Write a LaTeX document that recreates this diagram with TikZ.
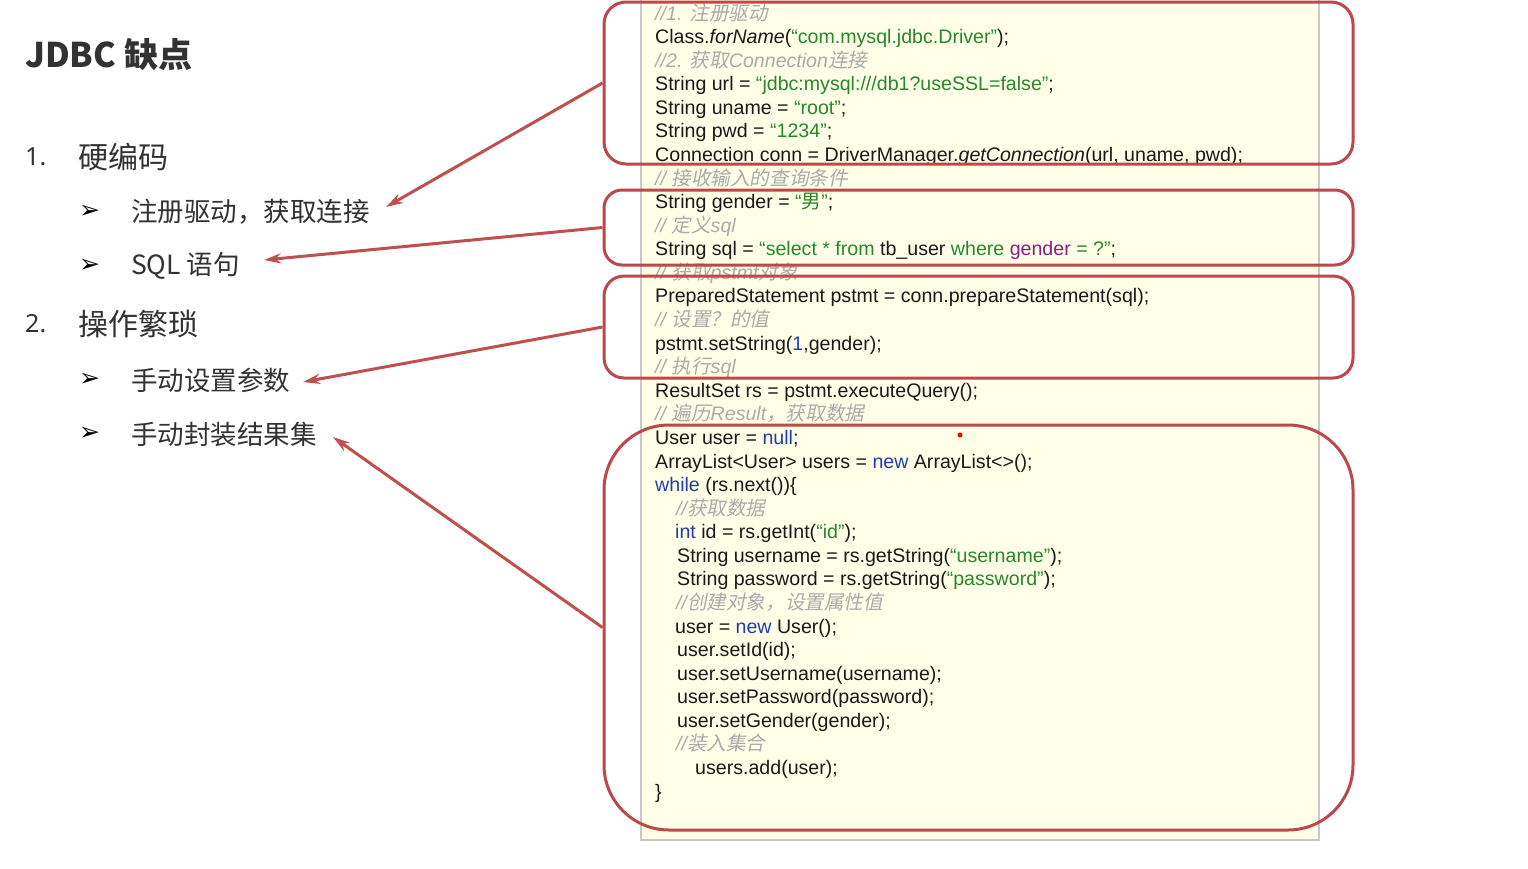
\documentclass[tikz,border=0pt]{standalone}
\usepackage{fontspec}
\setmainfont{Liberation Sans}
\newfontfamily\cjk{Noto Sans CJK SC}
\newfontfamily\cjkit[FakeSlant=0.2]{Noto Sans CJK SC}
\newfontfamily\latsans{Noto Sans}
\newfontfamily\dejavu{DejaVu Sans}
\usetikzlibrary{arrows.meta}
\definecolor{boxred}{RGB}{188,72,76}
\definecolor{arrred}{RGB}{192,80,77}
\definecolor{panelfill}{RGB}{255,255,232}
\definecolor{panelline}{RGB}{200,200,200}
\definecolor{codeblack}{RGB}{25,25,25}
\definecolor{strgreen}{RGB}{40,135,45}
\definecolor{kwblue}{RGB}{35,60,165}
\definecolor{kwpurple}{RGB}{135,30,135}
\definecolor{cmtgray}{RGB}{170,170,170}
\definecolor{lefttext}{RGB}{50,50,50}
\newcommand\jstr[1]{\textcolor{strgreen}{#1}}
\newcommand\jkw[1]{\textcolor{kwblue}{#1}}
\newcommand\jcm[1]{\textcolor{cmtgray}{\itshape #1}}
\newcommand\jcn[1]{{\cjkit #1}}
\tikzset{
  codeline/.style={anchor=base west, inner sep=0pt, text=codeblack,
    font=\fontsize{19.6}{23.6}\selectfont},
  redbox/.style={draw=boxred, line width=3pt, fill=none, inner sep=0pt},
  pointer/.style={draw=arrred, line width=3pt,
    -{Stealth[length=17pt,width=10pt]}},
  lefthead/.style={anchor=west, inner sep=0pt, text=lefttext,
    font=\cjk\fontsize{30}{36}\selectfont},
  leftitem/.style={anchor=west, inner sep=0pt, text=lefttext,
    font=\cjk\fontsize{26.5}{32}\selectfont},
  leftnum/.style={anchor=west, inner sep=0pt, text=lefttext,
    font=\latsans\fontsize{25}{30}\selectfont},
  bullet/.style={anchor=west, inner sep=0pt, text=black,
    font=\dejavu\fontsize{25}{28}\selectfont},
}
\begin{document}
\begin{tikzpicture}[x=1pt,y=-1pt]
\useasboundingbox (0,0) rectangle (1528,868);
\fill[white] (0,0) rectangle (1528,868);
% code panel
\draw[fill=panelfill, draw=panelline, line width=1.5pt] (641,-3) rectangle (1319,840);
% code lines
\def\bl#1{\fpeval{20+23.58*(#1-1)}}
\node[codeline] (c1) at (655,{\bl{1}}) {\jcm{//1. \jcn{注册驱动}}};
\node[codeline] (c2) at (655,{\bl{2}}) {Class.\textit{forName}(\jstr{“com.mysql.jdbc.Driver”});};
\node[codeline] (c3) at (655,{\bl{3}}) {\jcm{//2. \jcn{获取}Connection\jcn{连接}}};
\node[codeline] (c4) at (655,{\bl{4}}) {String url = \jstr{“jdbc:mysql:///db1?useSSL=false”};};
\node[codeline] (c5) at (655,{\bl{5}}) {String uname = \jstr{“root”};};
\node[codeline] (c6) at (655,{\bl{6}}) {String pwd = \jstr{“1234”};};
\node[codeline] (c7) at (655,{\bl{7}}) {Connection conn = DriverManager.\textit{getConnection}(url, uname, pwd);};
\node[codeline] (c8) at (655,{\bl{8}}) {\jcm{// \jcn{接收输入的查询条件}}};
\node[codeline] (c9) at (655,{\bl{9}}) {String gender = \jstr{“{\cjk 男}”};};
\node[codeline] (c10) at (655,{\bl{10}}) {\jcm{// \jcn{定义}sql}};
\node[codeline] (c11) at (655,{\bl{11}}) {String sql = \jstr{“select * from} tb\_user \jstr{where} \textcolor{kwpurple}{gender} \jstr{= ?”};};
\node[codeline] (c12) at (655,{\bl{12}}) {\jcm{// \jcn{获取}pstmt\jcn{对象}}};
\node[codeline] (c13) at (655,{\bl{13}}) {PreparedStatement pstmt = conn.prepareStatement(sql);};
\node[codeline] (c14) at (655,{\bl{14}}) {\jcm{// \jcn{设置？的值}}};
\node[codeline] (c15) at (655,{\bl{15}}) {pstmt.setString(\jkw{1},gender);};
\node[codeline] (c16) at (655,{\bl{16}}) {\jcm{// \jcn{执行}sql}};
\node[codeline] (c17) at (655,{\bl{17}}) {ResultSet rs = pstmt.executeQuery();};
\node[codeline] (c18) at (655,{\bl{18}}) {\jcm{// \jcn{遍历}Result\jcn{，获取数据}}};
\node[codeline] (c19) at (655,{\bl{19}}) {User user = \jkw{null};};
\node[codeline] (c20) at (655,{\bl{20}}) {ArrayList<User> users = \jkw{new} ArrayList<>();};
\node[codeline] (c21) at (655,{\bl{21}}) {\jkw{while} (rs.next())\{};
\node[codeline] (c22) at (676,{\bl{22}}) {\jcm{//\jcn{获取数据}}};
\node[codeline] (c23) at (675,{\bl{23}}) {\jkw{int} id = rs.getInt(\jstr{“id”});};
\node[codeline] (c24) at (677,{\bl{24}}) {String username = rs.getString(\jstr{“username”});};
\node[codeline] (c25) at (677,{\bl{25}}) {String password = rs.getString(\jstr{“password”});};
\node[codeline] (c26) at (676,{\bl{26}}) {\jcm{//\jcn{创建对象，设置属性值}}};
\node[codeline] (c27) at (675,{\bl{27}}) {user = \jkw{new} User();};
\node[codeline] (c28) at (677,{\bl{28}}) {user.setId(id);};
\node[codeline] (c29) at (677,{\bl{29}}) {user.setUsername(username);};
\node[codeline] (c30) at (677,{\bl{30}}) {user.setPassword(password);};
\node[codeline] (c31) at (677,{\bl{31}}) {user.setGender(gender);};
\node[codeline] (c32) at (676,{\bl{32}}) {\jcm{//\jcn{装入集合}}};
\node[codeline] (c33) at (695,{\bl{33}}) {users.add(user);};
\node[codeline] (c34) at (655,{\bl{34}}) {\}};
% red boxes
\node[redbox, rounded corners=22pt, minimum width=749pt, minimum height=162pt] (b1) at (978.5,83) {};
\node[redbox, rounded corners=18pt, minimum width=749pt, minimum height=75pt] (b2) at (978.5,227.5) {};
\node[redbox, rounded corners=20pt, minimum width=749pt, minimum height=102pt] (b3) at (978.5,327) {};
\node[redbox, rounded corners=65pt, minimum width=749pt, minimum height=405pt] (b4) at (978.5,627.5) {};
% pointer dot
\node[circle, fill=red, inner sep=0pt, minimum size=5pt] (dot) at (960,435) {};
% left column
\node[anchor=west, inner sep=0pt, text=lefttext, font=\cjk\bfseries\fontsize{34}{40}\selectfont] (title) at (25,55) {JDBC 缺点};
\node[leftnum] (n1) at (25,157) {1.};
\node[lefthead] (h1) at (78,157) {硬编码};
\node[bullet] (p1) at (79,212) {➢};
\node[leftitem] (i1) at (131,212) {注册驱动，获取连接};
\node[bullet] (p2) at (79,266) {➢};
\node[leftitem] (i2) at (131,266) {SQL 语句};
\node[leftnum] (n2) at (25,324) {2.};
\node[lefthead] (h2) at (78,324) {操作繁琐};
\node[bullet] (p3) at (79,380) {➢};
\node[leftitem] (i3) at (131,380) {手动设置参数};
\node[bullet] (p4) at (79,434) {➢};
\node[leftitem] (i4) at (131,434) {手动封装结果集};
% arrow tips
\coordinate (t1) at (386,207);
\coordinate (t2) at (264,260);
\coordinate (t3) at (303,382);
\coordinate (t4) at (333,437);
\draw[pointer] (b1.west) -- (t1);
\draw[pointer] (b2.west) -- (t2);
\draw[pointer] (b3.west) -- (t3);
\draw[pointer] (b4.west) -- (t4);
\end{tikzpicture}
\end{document}
